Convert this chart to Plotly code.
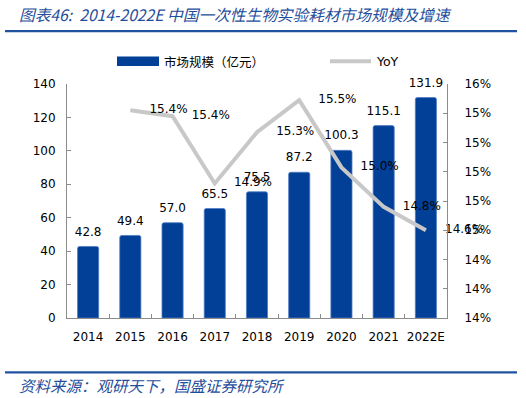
import plotly.graph_objects as go

# ---- data ----
years = ["2014", "2015", "2016", "2017", "2018", "2019", "2020", "2021", "2022E"]
market_size = [42.8, 49.4, 57.0, 65.5, 75.5, 87.2, 100.3, 115.1, 131.9]
yoy_years = ["2015", "2016", "2017", "2018", "2019", "2020", "2021", "2022E"]
yoy_pct = [15.42, 15.38, 14.92, 15.27, 15.49, 15.03, 14.76, 14.60]
yoy = [v / 100 for v in yoy_pct]

title_text = "图表46:  2014-2022E 中国一次性生物实验耗材市场规模及增速"
source_text = "资料来源：观研天下，国盛证券研究所"
bar_name = "市场规模（亿元）"
line_name = "YoY"

# ---- layout geometry (pixels) ----
W, H = 526, 398
L, R, T, B = 67, 447, 83.5, 318


def px(x):
    return (x - L) / (R - L)


def py(y):
    return (B - y) / (B - T)


BLUE = "#023F97"
TXT_BLUE = "#1F4E9C"
GRAY_LINE = "#C8C8C8"
AXIS = "#8C8C8C"
NUM_FONT = "DejaVu Sans"
CJK_FONT = "Noto Sans CJK SC"

fig = go.Figure()
fig.add_trace(go.Bar(
    x=years, y=market_size, name=bar_name,
    marker=dict(color=BLUE, line=dict(color="#4F7CC4", width=0.8), cornerradius=2),
    width=0.5, showlegend=False, hoverinfo="x+y",
))
# bar value labels
fig.add_trace(go.Scatter(
    x=years, y=market_size, mode="markers+text",
    marker=dict(size=11, color="rgba(0,0,0,0)"),
    text=[f"{v:.1f}" for v in market_size], textposition="top center",
    textfont=dict(family=NUM_FONT, size=12, color="#000000"),
    cliponaxis=False, showlegend=False, hoverinfo="skip",
))
fig.add_trace(go.Scatter(
    x=yoy_years, y=yoy, name=line_name, yaxis="y2",
    mode="lines+markers+text",
    line=dict(color=GRAY_LINE, width=4),
    marker=dict(size=29, color="rgba(0,0,0,0)"),
    texttemplate="%{y:.1%}", textposition="middle right",
    textfont=dict(family=NUM_FONT, size=12, color="#000000"),
    cliponaxis=False, showlegend=False,
))

fig.update_layout(
    width=W, height=H, autosize=False,
    margin=dict(l=L, r=W - R, t=T, b=H - B, pad=0),
    paper_bgcolor="white", plot_bgcolor="white",
    font=dict(family=NUM_FONT, size=12, color="#000000"),
    bargap=0.5,
    xaxis=dict(
        type="category", range=[-0.5, len(years) - 0.5], autorange=False,
        showgrid=False, showline=True, linecolor=AXIS, linewidth=1,
        ticks="inside", ticklen=4, tickcolor=AXIS, tickson="boundaries",
        tickangle=0, automargin=False,
        tickfont=dict(family=NUM_FONT, size=12), ticklabelstandoff=8,
    ),
    yaxis=dict(
        range=[0, 140], dtick=20, tick0=0, showgrid=False, zeroline=False,
        showline=True, linecolor=AXIS, linewidth=1, automargin=False,
        ticks="inside", ticklen=4, tickcolor=AXIS,
        tickfont=dict(family=NUM_FONT, size=12), ticklabelstandoff=8,
    ),
    yaxis2=dict(
        overlaying="y", side="right", range=[0.140, 0.156], dtick=0.002, tick0=0.140,
        tickformat=".0%", showgrid=False, zeroline=False, automargin=False,
        showline=True, linecolor=AXIS, linewidth=1,
        ticks="inside", ticklen=4, tickcolor=AXIS,
        tickfont=dict(family=NUM_FONT, size=12), ticklabelstandoff=14,
    ),
)

shapes = [
    # title underline
    dict(type="line", xref="paper", yref="paper", x0=px(5), x1=px(517), y0=py(30.5), y1=py(30.5),
         line=dict(color="#2152A0", width=2.2)),
    # source overline
    dict(type="line", xref="paper", yref="paper", x0=px(5), x1=px(517), y0=py(372.5), y1=py(372.5),
         line=dict(color="#2152A0", width=2.2)),
    # legend swatch: bar
    dict(type="rect", xref="paper", yref="paper", x0=px(117), x1=px(159), y0=py(65.5), y1=py(56),
         fillcolor=BLUE, line=dict(width=0)),
    # legend swatch: line
    dict(type="line", xref="paper", yref="paper", x0=px(330), x1=px(371), y0=py(60.7), y1=py(60.7),
         line=dict(color=GRAY_LINE, width=4)),
]

annotations = [
    dict(text=title_text, xref="paper", yref="paper", x=px(17), y=py(13.5),
         xanchor="left", yanchor="middle", showarrow=False,
         font=dict(family=CJK_FONT, size=15.7, color=TXT_BLUE, style="italic")),
    dict(text=source_text, xref="paper", yref="paper", x=px(17), y=py(385),
         xanchor="left", yanchor="middle", showarrow=False,
         font=dict(family=CJK_FONT, size=15.5, color=TXT_BLUE, style="italic")),
    dict(text=bar_name, xref="paper", yref="paper", x=px(162), y=py(61),
         xanchor="left", yanchor="middle", showarrow=False,
         font=dict(family=CJK_FONT, size=12.5, color="#000000")),
    dict(text=line_name, xref="paper", yref="paper", x=px(374), y=py(61),
         xanchor="left", yanchor="middle", showarrow=False,
         font=dict(family=NUM_FONT, size=12.5, color="#000000")),
]

fig.update_layout(shapes=shapes, annotations=annotations)
fig.write_html("out.html", config={"displayModeBar": False},
               post_script="document.body.style.margin='0';document.body.style.padding='0';")
